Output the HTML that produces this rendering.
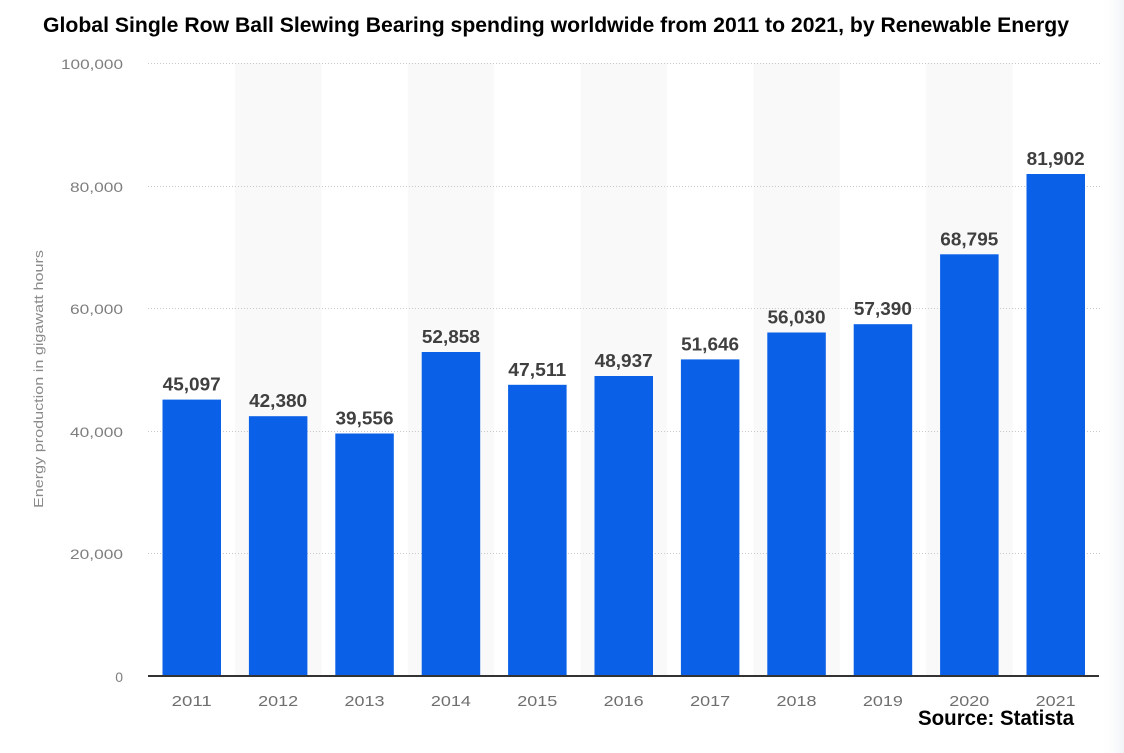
<!DOCTYPE html>
<html>
<head>
<meta charset="utf-8">
<style>
html,body{margin:0;padding:0;background:#fff;}
svg{display:block;}
text{font-family:"Liberation Sans",sans-serif;}
</style>
</head>
<body>
<svg width="1124" height="753" viewBox="0 0 1124 753" xmlns="http://www.w3.org/2000/svg">
<defs>
<linearGradient id="edge" x1="0" y1="0" x2="1" y2="0">
<stop offset="0" stop-color="#ffffff" stop-opacity="0"/>
<stop offset="1" stop-color="#f1f3f7"/>
</linearGradient>
</defs>
<rect x="0" y="0" width="1124" height="753" fill="#fff"/>
<rect x="1100" y="0" width="24" height="753" fill="url(#edge)"/>

<!-- shaded bands -->
<g fill="#f9f9f9">
<rect x="235" y="63" width="86.4" height="613"/>
<rect x="407.8" y="63" width="86.4" height="613"/>
<rect x="580.6" y="63" width="86.4" height="613"/>
<rect x="753.4" y="63" width="86.4" height="613"/>
<rect x="926.2" y="63" width="86.4" height="613"/>
</g>

<!-- gridlines -->
<g stroke="#c8c8c8" stroke-width="1" stroke-dasharray="1,2">
<line x1="148" y1="63.5" x2="1100" y2="63.5"/>
<line x1="148" y1="186.5" x2="1100" y2="186.5"/>
<line x1="148" y1="308.5" x2="1100" y2="308.5"/>
<line x1="148" y1="431.5" x2="1100" y2="431.5"/>
<line x1="148" y1="553.5" x2="1100" y2="553.5"/>
</g>

<!-- bars -->
<g fill="#0a60e6">
<rect x="162.5" y="399.6" width="58.5" height="276.4"/>
<rect x="248.9" y="416.2" width="58.5" height="259.8"/>
<rect x="335.3" y="433.5" width="58.5" height="242.5"/>
<rect x="421.7" y="352.0" width="58.5" height="324.0"/>
<rect x="508.1" y="384.8" width="58.5" height="291.2"/>
<rect x="594.5" y="376.0" width="58.5" height="300.0"/>
<rect x="680.9" y="359.4" width="58.5" height="316.6"/>
<rect x="767.3" y="332.5" width="58.5" height="343.5"/>
<rect x="853.7" y="324.2" width="58.5" height="351.8"/>
<rect x="940.1" y="254.3" width="58.5" height="421.7"/>
<rect x="1026.5" y="174.0" width="58.5" height="502.0"/>
</g>

<!-- baseline -->
<line x1="148" y1="676" x2="1099" y2="676" stroke="#333" stroke-width="2"/>

<!-- value labels -->
<g font-size="18" font-weight="bold" fill="#3f3f3f" text-anchor="middle">
<text x="191.7" y="390.6" textLength="58" lengthAdjust="spacingAndGlyphs">45,097</text>
<text x="278.1" y="407.2" textLength="58" lengthAdjust="spacingAndGlyphs">42,380</text>
<text x="364.5" y="424.5" textLength="58" lengthAdjust="spacingAndGlyphs">39,556</text>
<text x="450.9" y="343.0" textLength="58" lengthAdjust="spacingAndGlyphs">52,858</text>
<text x="537.3" y="375.8" textLength="58" lengthAdjust="spacingAndGlyphs">47,511</text>
<text x="623.7" y="367.0" textLength="58" lengthAdjust="spacingAndGlyphs">48,937</text>
<text x="710.1" y="350.4" textLength="58" lengthAdjust="spacingAndGlyphs">51,646</text>
<text x="796.5" y="323.5" textLength="58" lengthAdjust="spacingAndGlyphs">56,030</text>
<text x="882.9" y="315.2" textLength="58" lengthAdjust="spacingAndGlyphs">57,390</text>
<text x="969.3" y="245.3" textLength="58" lengthAdjust="spacingAndGlyphs">68,795</text>
<text x="1055.7" y="165.0" textLength="58" lengthAdjust="spacingAndGlyphs">81,902</text>
</g>

<!-- y tick labels -->
<g font-size="14" fill="#7e7e7e" text-anchor="end">
<text x="123" y="69" textLength="62" lengthAdjust="spacingAndGlyphs">100,000</text>
<text x="123" y="192" textLength="53" lengthAdjust="spacingAndGlyphs">80,000</text>
<text x="123" y="314" textLength="53" lengthAdjust="spacingAndGlyphs">60,000</text>
<text x="123" y="437" textLength="53" lengthAdjust="spacingAndGlyphs">40,000</text>
<text x="123" y="559" textLength="53" lengthAdjust="spacingAndGlyphs">20,000</text>
<text x="123" y="682">0</text>
</g>

<!-- x tick labels -->
<g font-size="15" fill="#6f6f6f" text-anchor="middle">
<text x="191.7" y="706" textLength="40" lengthAdjust="spacingAndGlyphs">2011</text>
<text x="278.1" y="706" textLength="40" lengthAdjust="spacingAndGlyphs">2012</text>
<text x="364.5" y="706" textLength="40" lengthAdjust="spacingAndGlyphs">2013</text>
<text x="450.9" y="706" textLength="40" lengthAdjust="spacingAndGlyphs">2014</text>
<text x="537.3" y="706" textLength="40" lengthAdjust="spacingAndGlyphs">2015</text>
<text x="623.7" y="706" textLength="40" lengthAdjust="spacingAndGlyphs">2016</text>
<text x="710.1" y="706" textLength="40" lengthAdjust="spacingAndGlyphs">2017</text>
<text x="796.5" y="706" textLength="40" lengthAdjust="spacingAndGlyphs">2018</text>
<text x="882.9" y="706" textLength="40" lengthAdjust="spacingAndGlyphs">2019</text>
<text x="969.3" y="706" textLength="40" lengthAdjust="spacingAndGlyphs">2020</text>
<text x="1055.7" y="706" textLength="40" lengthAdjust="spacingAndGlyphs">2021</text>
</g>

<!-- y axis title -->
<text transform="translate(43,379) rotate(-90)" font-size="13" fill="#8a8a8a" text-anchor="middle" textLength="258" lengthAdjust="spacingAndGlyphs">Energy production in gigawatt hours</text>

<!-- title -->
<text x="43" y="32" font-size="21" font-weight="bold" fill="#000" textLength="1026" lengthAdjust="spacingAndGlyphs">Global Single Row Ball Slewing Bearing spending worldwide from 2011 to 2021, by Renewable Energy</text>

<!-- source -->
<text x="918" y="725" font-size="21" font-weight="bold" fill="#000" textLength="156" lengthAdjust="spacingAndGlyphs">Source: Statista</text>
</svg>
</body>
</html>
